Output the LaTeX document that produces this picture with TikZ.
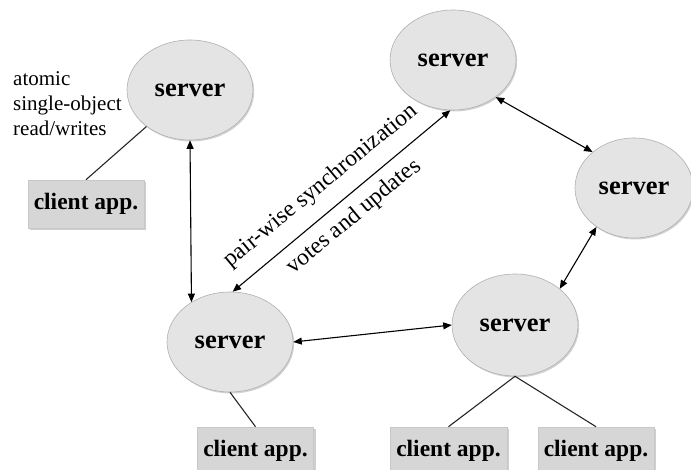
\documentclass[tikz,border=0pt]{standalone}
\usepackage{fontspec}
\setmainfont{Liberation Serif}
\usetikzlibrary{shapes.geometric,shadows,arrows.meta}
\definecolor{ellfill}{HTML}{E4E4E4}
\definecolor{ellline}{HTML}{B0B0B0}
\definecolor{boxfill}{HTML}{D6D6D6}
\definecolor{boxline}{HTML}{C8C8C8}
\tikzset{
  srv/.style={ellipse, minimum width=126pt, minimum height=100pt, inner sep=0pt,
    fill=ellfill, draw=ellline, line width=0.6pt,
    drop shadow={shadow xshift=1.2pt, shadow yshift=-1.5pt, fill=gray!70},
    font=\fontsize{26.5pt}{29pt}\selectfont\bfseries},
  cli/.style={rectangle, minimum width=116pt, minimum height=48pt, inner sep=0pt,
    fill=boxfill, draw=boxline, line width=0.6pt,
    drop shadow={shadow xshift=2pt, shadow yshift=-2pt, fill=gray!75},
    font=\fontsize{23.5pt}{26pt}\selectfont\bfseries},
  lbl/.style={inner sep=0pt, font=\fontsize{23.5pt}{26pt}\selectfont},
  biarr/.style={{Triangle[length=8.5pt,width=7pt]}-{Triangle[length=8.5pt,width=7pt]}, line width=1.1pt, black},
  plain/.style={line width=1.1pt, black!85}
}
\begin{document}
\begin{tikzpicture}[x=1pt,y=-1pt]
\useasboundingbox (0,0) rectangle (691,470);
% servers
\node[srv] (s1) at (190,90) {server};
\node[srv] (s2) at (453,60) {server};
\node[srv, minimum width=118pt] (s3) at (634,188) {server};
\node[srv] (s4) at (230,342) {server};
\node[srv, minimum height=102pt] (s5) at (515,325) {server};
% clients
\node[cli] (c1) at (86,204) {client app.};
\node[cli] (c2) at (255.5,451) {client app.};
\node[cli, minimum width=117pt] (c3) at (448.5,451) {client app.};
\node[cli] (c4) at (596,451) {client app.};
% text
\node[anchor=base west, align=left, inner sep=0pt,
  font=\fontsize{21pt}{25pt}\selectfont] (t1) at (13,136)
  {atomic\\single-object\\read/writes};
% connectors
\draw[plain] (s1.220) -- (c1.north);
\draw[plain] (s4.south) -- (c2.north);
\draw[plain] (s5.south) -- (c3.north);
\draw[plain] (s5.south) -- (c4.north);
\draw[biarr] (s1.south) -- (s4.134);
\draw[biarr] (s4.87) -- (s2.267);
\draw[biarr] (s2.319) -- (s3.139);
\draw[biarr] (s3.226) -- (s5.39);
\draw[biarr] (s4.east) -- (s5.west);
% rotated labels
\node[lbl, rotate=39.5] (l1) at (321,186) {pair-wise synchronization};
\node[lbl, rotate=39.5] (l2) at (354,217) {votes and updates};
\end{tikzpicture}
\end{document}
